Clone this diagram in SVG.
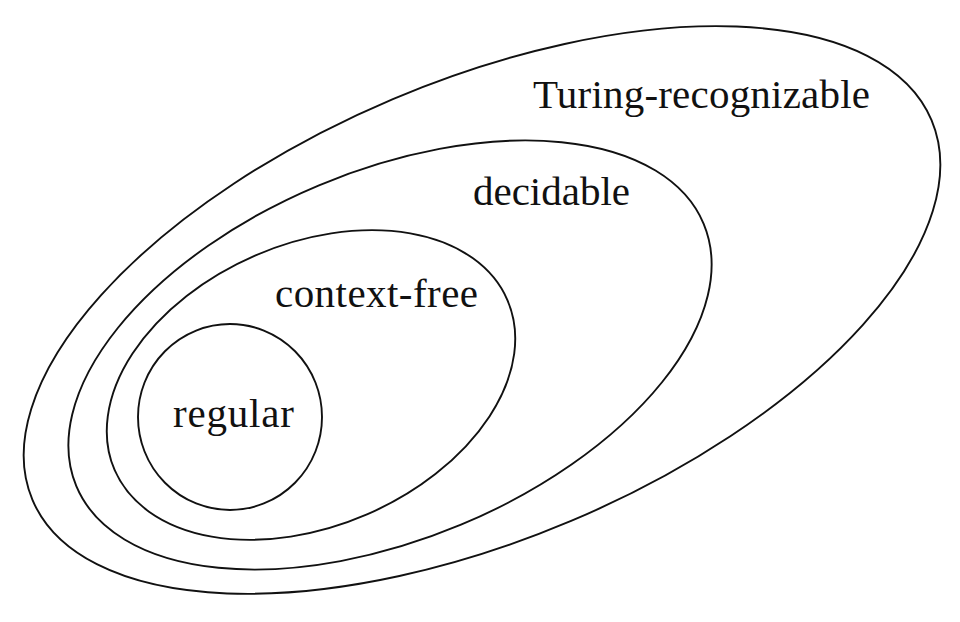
<svg xmlns="http://www.w3.org/2000/svg" width="960" height="622" viewBox="0 0 960 622">
  <style>
    .set { fill: none; stroke: #111; stroke-width: 1.9; }
    .lbl { font-family: "Liberation Serif", "Times New Roman", serif; font-size: 41px; fill: #111; }
  </style>
  <rect width="960" height="622" fill="#ffffff"/>
  <g id="turing-recognizable">
    <ellipse class="set" cx="482" cy="310" rx="488" ry="229" transform="rotate(-22.9 482 310)"/>
    <text class="lbl" x="533" y="108" textLength="337">Turing-recognizable</text>
  </g>
  <g id="decidable">
    <ellipse class="set" cx="390" cy="355" rx="340" ry="184" transform="rotate(-22.7 390 355)"/>
    <text class="lbl" x="473" y="205" textLength="157">decidable</text>
  </g>
  <g id="context-free">
    <ellipse class="set" cx="311" cy="385" rx="214" ry="141" transform="rotate(-23.4 311 385)"/>
    <text class="lbl" x="275" y="307" textLength="203">context-free</text>
  </g>
  <g id="regular">
    <ellipse class="set" cx="230" cy="417" rx="92" ry="93"/>
    <text class="lbl" x="173" y="427" textLength="121">regular</text>
  </g>
</svg>
